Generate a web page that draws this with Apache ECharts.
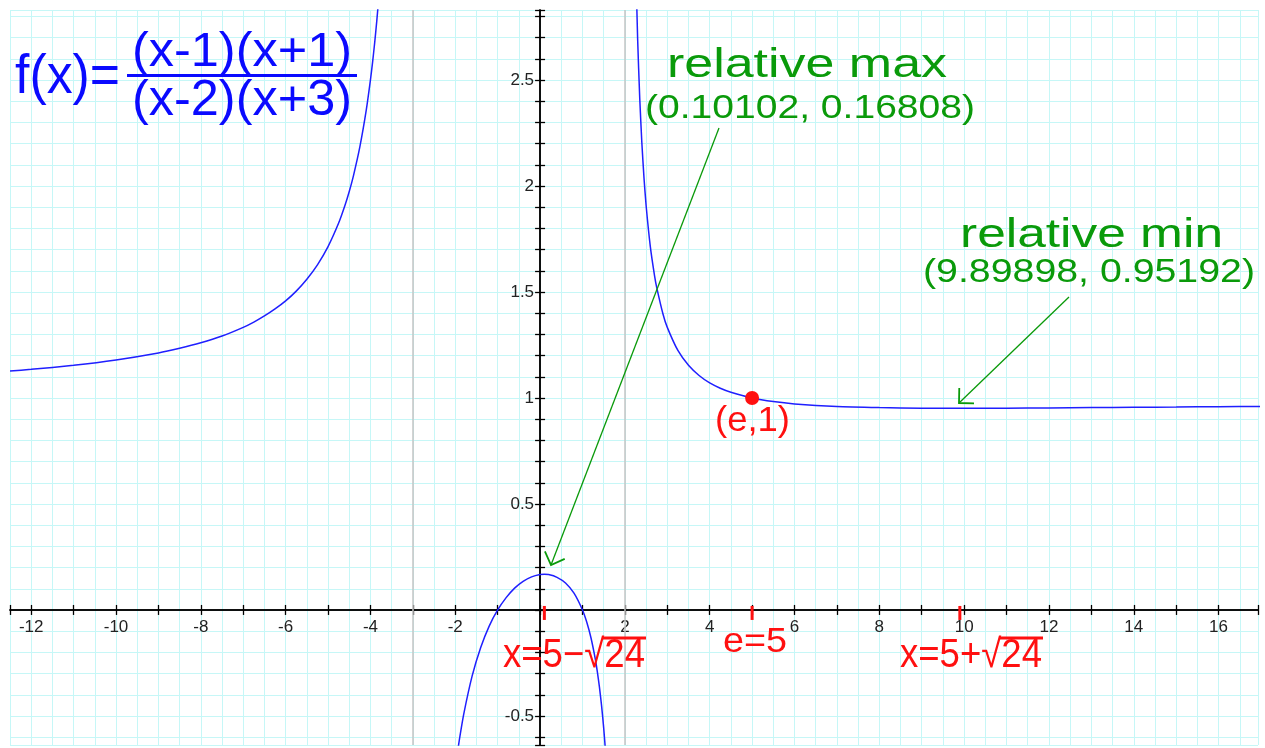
<!DOCTYPE html>
<html>
<head>
<meta charset="utf-8">
<title>f(x) = (x-1)(x+1) / ((x-2)(x+3))</title>
<script src="https://cdn.jsdelivr.net/npm/echarts@6/dist/echarts.min.js"></script>
<style>
  html, body { margin: 0; padding: 0; background: #fff; }
  #chart { width: 1265px; height: 748px; }
</style>
</head>
<body>
<div id="chart"></div>
<script>
// curve points (three branches split by the asymptotes)
const leftBranchX = [-12.5, -12, -11, -10, -9, -8.5, -8, -7.5, -7, -6.75, -6.5, -6.25, -6, -5.75, -5.5, -5.25, -5, -4.75, -4.6, -4.5, -4.4, -4.25, -4.1, -4, -3.95, -3.9, -3.85, -3.8, -3.75];
const leftBranchY = [1.127, 1.135, 1.154, 1.179, 1.212, 1.234, 1.26, 1.292, 1.333, 1.358, 1.387, 1.42, 1.458, 1.504, 1.56, 1.628, 1.714, 1.825, 1.909, 1.974, 2.049, 2.184, 2.356, 2.5, 2.583, 2.676, 2.78, 2.897, 3.029];

const middleBranchX = [-2.1, -2.05, -2, -1.95, -1.9, -1.8, -1.6, -1.4, -1.2, -1, -0.8, -0.6, -0.4, -0.2, 0, 0.101, 0.2, 0.4, 0.6, 0.8, 1, 1.1, 1.2, 1.3, 1.35, 1.4, 1.45, 1.5, 1.55, 1.6];
const middleBranchY = [-0.924, -0.832, -0.75, -0.676, -0.608, -0.491, -0.31, -0.177, -0.076, 0, 0.058, 0.103, 0.135, 0.156, 0.167, 0.168, 0.167, 0.154, 0.127, 0.079, 0, -0.057, -0.131, -0.229, -0.291, -0.364, -0.451, -0.556, -0.685, -0.848];

const rightBranchX = [2.25, 2.3, 2.35, 2.4, 2.45, 2.5, 2.6, 2.7, 2.75, 2.9, 3, 3.25, 3.5, 3.75, 4, 4.25, 4.5, 5, 5.5, 6, 7, 8, 9, 9.899, 11, 12, 13, 14, 15, 16, 17];
const rightBranchY = [3.095, 2.698, 2.415, 2.204, 2.04, 1.909, 1.714, 1.576, 1.522, 1.395, 1.333, 1.224, 1.154, 1.106, 1.071, 1.046, 1.027, 1, 0.983, 0.972, 0.96, 0.955, 0.952, 0.952, 0.952, 0.953, 0.955, 0.956, 0.957, 0.959, 0.96];

const asymptoteX = [-3, 2];
const markedX = [0.10102, 5, 9.89898];
const pointE = [5, 1];

const xRange = [-12.5, 16.93];
const yRange = [-0.637, 2.83];

const W = 1265, H = 748;
const gridBox = { left: 10, right: 7, top: 10, bottom: 3 };

const curveColor = "#1f1fff";
const gridColor = "#c6f7f7";
const red = "#ff1010";
const green = "#0a9a0a";
const font = '"Liberation Sans", Arial, sans-serif';

const zip = (xs, ys) => xs.map((x, i) => [x, ys[i]]);

// where the zero lines fall inside the grid, so the axes can be moved there with offset
const gridW = W - gridBox.left - gridBox.right;
const gridH = H - gridBox.top - gridBox.bottom;
const zeroX = gridBox.left + ((0 - xRange[0]) / (xRange[1] - xRange[0])) * gridW;
const zeroY = gridBox.top + ((yRange[1] - 0) / (yRange[1] - yRange[0])) * gridH;

const measureCtx = document.createElement("canvas").getContext("2d");
function textWidth(text, size) {
  measureCtx.font = size + "px " + font;
  return measureCtx.measureText(text).width;
}

// text placed by left edge + baseline, stretched to the width seen in the picture
function label(text, left, baseline, size, width, color) {
  return {
    type: "text",
    x: left,
    y: baseline - 0.35 * size,
    scaleX: width / textWidth(text, size),
    z: 100,
    style: {
      text: text,
      x: 0,
      y: 0,
      fill: color,
      font: size + "px " + font,
      textAlign: "left",
      verticalAlign: "middle",
      textVerticalAlign: "middle",
    },
  };
}

function radical(prefix, rest, left, baseline, size, width, barY) {
  const full = prefix + rest;
  const sx = width / textWidth(full, size);
  const x1 = left + sx * textWidth(prefix, size) - 2;
  return [
    label(full, left, baseline, size, width, red),
    {
      type: "line",
      z: 100,
      shape: { x1: x1, y1: barY, x2: left + width + 1, y2: barY },
      style: { stroke: red, lineWidth: 3 },
    },
  ];
}

function arrow(x1, y1, x2, y2) {
  const a = Math.atan2(y1 - y2, x1 - x2);
  const len = 15;
  const s = Math.PI / 4;
  return [
    {
      type: "line",
      z: 100,
      shape: { x1: x1, y1: y1, x2: x2, y2: y2 },
      style: { stroke: green, lineWidth: 1.3 },
    },
    {
      type: "polyline",
      z: 100,
      shape: {
        points: [
          [x2 + len * Math.cos(a + s), y2 + len * Math.sin(a + s)],
          [x2, y2],
          [x2 + len * Math.cos(a - s), y2 + len * Math.sin(a - s)],
        ],
      },
      style: { stroke: green, fill: null, lineWidth: 1.8 },
    },
  ];
}

function xLabel(v) {
  const r = Math.round(v);
  if (Math.abs(v - r) > 1e-6 || r === 0 || r % 2 !== 0) return "";
  return String(r);
}
function yLabel(v) {
  const h = Math.round(v * 2);
  if (Math.abs(v * 2 - h) > 1e-6 || h === 0) return "";
  return String(h / 2);
}

const axisLineStyle = { color: "#000", width: 1.5 };
const tickStyle = { color: "#000", width: 1.3 };
const tickLabelStyle = { color: "#222", fontSize: 17, fontFamily: font };

function xTickAxis(position, offset, labels) {
  return {
    type: "value",
    min: xRange[0],
    max: xRange[1],
    minInterval: 1,
    maxInterval: 1,
    position: position,
    offset: offset,
    axisLine: { onZero: false, lineStyle: axisLineStyle },
    axisTick: { show: true, length: 5, lineStyle: tickStyle },
    axisLabel: labels
      ? Object.assign({ formatter: xLabel, margin: 9 }, tickLabelStyle)
      : { show: false },
    splitLine: { show: false },
  };
}
function yTickAxis(position, offset, labels, split) {
  return {
    type: "value",
    min: yRange[0],
    max: yRange[1],
    minInterval: 0.1,
    maxInterval: 0.1,
    position: position,
    offset: offset,
    axisLine: { onZero: false, lineStyle: axisLineStyle },
    axisTick: { show: true, length: 5, lineStyle: tickStyle },
    axisLabel: labels
      ? Object.assign({ formatter: yLabel, margin: 6 }, tickLabelStyle)
      : { show: false },
    splitLine: { show: split, lineStyle: { color: gridColor, width: 1 } },
  };
}

const chart = echarts.init(document.getElementById("chart"));

const option = {
  animation: false,
  backgroundColor: "#fff",
  grid: {
    left: gridBox.left,
    right: gridBox.right,
    top: gridBox.top,
    bottom: gridBox.bottom,
    containLabel: false,
    outerBoundsMode: "none",
  },
  xAxis: [
    xTickAxis("bottom", zeroY - (H - gridBox.bottom), true),
    xTickAxis("top", gridBox.top - zeroY, false),
    {
      type: "value",
      min: xRange[0],
      max: xRange[1],
      minInterval: 0.5,
      maxInterval: 0.5,
      position: "bottom",
      axisLine: { show: false, onZero: false },
      axisTick: { show: false },
      axisLabel: { show: false },
      splitLine: { show: true, lineStyle: { color: gridColor, width: 1 } },
    },
  ],
  yAxis: [
    yTickAxis("left", gridBox.left - zeroX, true, true),
    yTickAxis("right", zeroX - (W - gridBox.right), false, false),
  ],
  series: [
    {
      type: "line",
      data: zip(leftBranchX, leftBranchY),
      showSymbol: false,
      smooth: 0.2,
      lineStyle: { color: curveColor, width: 1.5 },
      z: 5,
    },
    {
      type: "line",
      data: zip(middleBranchX, middleBranchY),
      showSymbol: false,
      smooth: 0.2,
      lineStyle: { color: curveColor, width: 1.5 },
      z: 5,
      markLine: {
        silent: true,
        symbol: ["none", "none"],
        label: { show: false },
        lineStyle: { color: "#c4c4c4", type: "solid", width: 1.5 },
        data: asymptoteX.map((x) => ({ xAxis: x })),
        z: 1,
      },
    },
    {
      type: "line",
      data: zip(rightBranchX, rightBranchY),
      showSymbol: false,
      smooth: 0.2,
      lineStyle: { color: curveColor, width: 1.5 },
      z: 5,
    },
    {
      type: "scatter",
      data: markedX.map((x) => [x, 0]),
      symbol: "rect",
      symbolSize: [3, 14],
      symbolOffset: [0, 3],
      itemStyle: { color: red, opacity: 1 },
      z: 6,
    },
    {
      type: "scatter",
      data: [pointE],
      symbolSize: 14,
      itemStyle: { color: red, opacity: 1 },
      z: 7,
    },
  ],
  graphic: [
    // formula
    label("f(x)=", 15, 97, 56, 105, "#0a0aff"),
    label("(x-1)(x+1)", 132, 70, 48, 220, "#0a0aff"),
    {
      type: "line",
      z: 100,
      shape: { x1: 127, y1: 75.5, x2: 357, y2: 75.5 },
      style: { stroke: "#0a0aff", lineWidth: 3 },
    },
    label("(x-2)(x+3)", 132, 119, 50, 220, "#0a0aff"),
    // extrema notes
    label("relative max", 667, 80, 40, 280, green),
    label("(0.10102, 0.16808)", 645, 120, 33, 330, green),
    label("relative min", 960, 250, 40, 263, green),
    label("(9.89898, 0.95192)", 923, 284, 33, 332, green),
    ...arrow(719, 128, 551, 565),
    ...arrow(1069, 297, 959, 403),
    // red notes
    label("(e,1)", 715, 434, 35, 75, red),
    label("e=5", 723, 655, 35, 64, red),
    ...radical("x=5\u2212\u221a", "24", 503, 670, 40, 142, 638),
    ...radical("x=5+\u221a", "24", 900, 670, 40, 142, 638),
  ],
};

option && chart.setOption(option);
</script>
</body>
</html>
